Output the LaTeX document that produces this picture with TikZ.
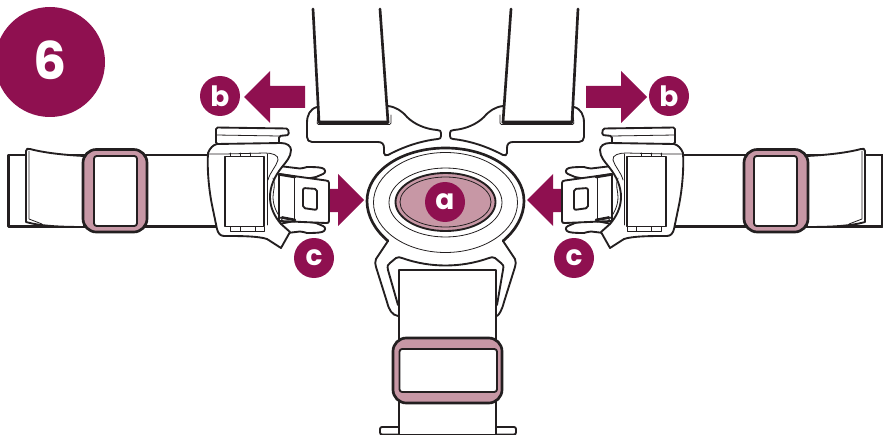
\documentclass[tikz,border=0pt]{standalone}
\usepackage{fontspec}
\setmainfont{Poppins}
\definecolor{maroon}{HTML}{8F1050}
\definecolor{rosa}{HTML}{C797A5}
\definecolor{ink}{HTML}{231F20}
\tikzset{
  heavy/.style={draw=ink,line width=2pt,line join=round,line cap=round},
  medium/.style={draw=ink,line width=1.4pt,line join=round,line cap=round},
  fine/.style={draw=ink,line width=0.6pt,line join=round,line cap=round},
  badge/.style={circle,fill=maroon,minimum size=30pt,inner sep=0pt,text=white,font=\bfseries\fontsize{21}{21}\selectfont},
  push/.style={fill=maroon,draw=none}
}
\newcommand{\sidepart}{%
  % belt
  \draw[heavy,fill=white] (210,155) -- (8.5,155) -- (8.5,226.5) -- (218,226.5);
  % flap
  \draw[medium,fill=white] (26,222) -- (26,151) .. controls (26,149) and (28,148) .. (30,149) .. controls (45,153) and (65,155) .. (84,156) -- (84,227) .. controls (60,227) and (40,226) .. (26,222) -- cycle;
  \draw[fine] (29,151) -- (29,219) -- (42,224);
  % ring
  \draw[heavy,fill=rosa,rounded corners=10pt] (83,149.5) rectangle (147,232);
  \draw[medium,fill=white,rounded corners=2pt] (94,156) rectangle (137,226);
  % c arrow
  \path[push] (325,189) -- (338,189) -- (338,174) -- (364,200) -- (338,226) -- (338,212) -- (325,212) -- cycle;
  % b arrow
  \path[push] (305,86) -- (270,86) -- (270,71) -- (244,97) -- (270,123) -- (270,108) -- (305,108) -- cycle;
  % tongue tabs
  \draw[medium,fill=white] (279,166) -- (300,168.5) .. controls (303,169) and (304,167) .. (307,167) .. controls (312,167) and (318,167) .. (322,168) .. controls (326,169) and (326,173) .. (323,174) -- (316,177) -- (300,180) -- (279,176);
  \draw[medium,fill=white] (279,234) -- (300,231.5) .. controls (303,231) and (304,233) .. (307,233) .. controls (312,233) and (318,233) .. (322,232) .. controls (326,231) and (326,227) .. (323,226) -- (316,223) -- (300,220) -- (279,224);
  % tongue
  \draw[medium,fill=white] (279,174) -- (326,180.5) .. controls (328,181) and (329,181) .. (329,183) -- (329,221) .. controls (329,223) and (328,223) .. (326,223) -- (279,221) -- cycle;
  \draw[heavy] (280,174.5) -- (295,177);
  \draw[heavy] (282,217.5) -- (295,220);
  \draw[fine] (294,177) -- (294,222);
  \draw[medium,rounded corners=1.5pt] (303,188) -- (317,189) -- (317,210) -- (303,208) -- cycle;
  % top tab of the buckle
  \draw[medium,fill=white,rounded corners=1.2pt] (216,144) -- (216,127.5) -- (288,128.5) -- (289,135) -- (279,136) -- (279,144) -- cycle;
  \draw[fine] (216,135) -- (279,136);
  % buckle body
  \draw[medium,fill=white] (208,153) .. controls (210,148) and (213,145) .. (217,144) -- (281,143) .. controls (287,143) and (291,146) .. (291,150) .. controls (291,157) and (286,162) .. (282,167) .. controls (274,177) and (270,187) .. (270,197) .. controls (270,208) and (275,217) .. (281,224) -- (290,232) -- (281,248) -- (267,239) .. controls (258,236) and (240,236) .. (224,236) .. controls (220,236) and (218,233) .. (217,229) -- (212,205) .. controls (209,190) and (207,170) .. (208,153) -- cycle;
  % thin inner lines
  \draw[fine] (208,154) -- (225,154) -- (265,153) .. controls (272,153) and (279,155) .. (278,160) .. controls (276,167) and (270,172) .. (268,180);
  \draw[fine] (267,154) -- (267,225);
  \draw[fine] (273,178) .. controls (276,186) and (273,190) .. (273,197) .. controls (273,206) and (277,214) .. (283,221);
  \draw[fine] (230,153) -- (230,156) (240,153) -- (240,156) (250,153) -- (250,156);
  \draw[fine] (230,227) -- (230,231) -- (264,231) -- (264,227);
  \draw[fine] (240,227) -- (240,231) (255,227) -- (255,231);
  % window
  \draw[medium,fill=white] (225,156.5) rectangle (264,226.5);
  % upper strap
  \draw[medium,fill=white] (317,107) .. controls (310,109) and (307,115) .. (307,123) -- (307,137) .. controls (307,140) and (309,142) .. (312,142) -- (378,142) .. controls (382,142) and (384,144) .. (384,148) -- (384,153) .. controls (384,155) and (386,156) .. (388,155) .. controls (403,147) and (420,141) .. (438,139) .. controls (440,139) and (441,138) .. (441,136) -- (441,133) .. controls (441,131) and (440,130) .. (437,130) .. controls (425,129) and (414,124) .. (407,117) .. controls (402,111) and (396,107) .. (388,106);
  \draw[heavy,fill=white] (313,9) -- (319,122) -- (388,122) -- (380,9);
  \draw[heavy] (319,122.5) -- (388,122.5);
  \draw[fine,rounded corners=1pt] (318,114) -- (317,124.5) -- (391,124.5) -- (391,115);
}
\begin{document}
\begin{tikzpicture}[x=0.75pt,y=-0.75pt]
\useasboundingbox (0,0) rectangle (883,435);
% numbered disc
\fill[maroon] (50,62) circle (55);
\node[text=white,font=\bfseries\fontsize{39}{39}\selectfont] (six) at (50,60) {6};
% two sides
\sidepart
\begin{scope}[shift={(891,0)},xscale=-1]
\sidepart
\end{scope}
% lower strap
\draw[heavy,fill=white] (399,435) -- (399,270) -- (496,270) -- (496,435);
% Y legs
\draw[medium] (388,241) -- (376,259) .. controls (375,262) and (375,264) .. (376,267) -- (387,302) .. controls (389,310) and (392,315) .. (398,316);
\draw[medium] (503,241) -- (515,259) .. controls (516,262) and (516,264) .. (515,267) -- (504,302) .. controls (502,310) and (499,315) .. (497,316);
\draw[medium] (398,305) -- (388,270) .. controls (387,266) and (388,264) .. (390,263) -- (396,258) .. controls (398,257) and (400,257) .. (402,258) .. controls (430,268) and (461,268) .. (489,258) .. controls (491,257) and (493,257) .. (495,258) -- (501,263) .. controls (503,264) and (504,266) .. (503,270) -- (497,305);
% ovals
\draw[heavy] (388,241) .. controls (375,230) and (367,216) .. (367,201) .. controls (367,171) and (402,148) .. (445.5,148) .. controls (489,148) and (524,171) .. (524,201) .. controls (524,216) and (516,230) .. (503,241);
\draw[fine] (445.5,202.5) ellipse [x radius=72,y radius=50];
\draw[fine] (445.5,202.5) ellipse [x radius=56.5,y radius=34.5];
\draw[medium,fill=rosa] (445.5,202) ellipse [x radius=50,y radius=29];
\draw[fine] (445.5,202) ellipse [x radius=45.5,y radius=25];
% lower ring
\draw[heavy,fill=rosa,rounded corners=10pt] (393,338) rectangle (502,403);
\draw[medium,fill=white,rounded corners=2pt] (399.5,349) rectangle (497,392);
% foot of the lower strap
\draw[medium,rounded corners=1.5pt] (399,427) -- (380,427) -- (380,434.5) -- (399,434.5);
\draw[medium,rounded corners=1.5pt] (496,427) -- (516,427) -- (516,434.5) -- (496,434.5);
\draw[fine] (399,434.5) -- (496,434.5);
% labels
\node[badge] (la) at (445,202) {a};
\node[badge] (lb1) at (220,96) {b};
\node[badge] (lb2) at (669,96) {b};
\node[badge] (lc1) at (314,258) {c};
\node[badge] (lc2) at (574,258) {c};
\end{tikzpicture}
\end{document}
